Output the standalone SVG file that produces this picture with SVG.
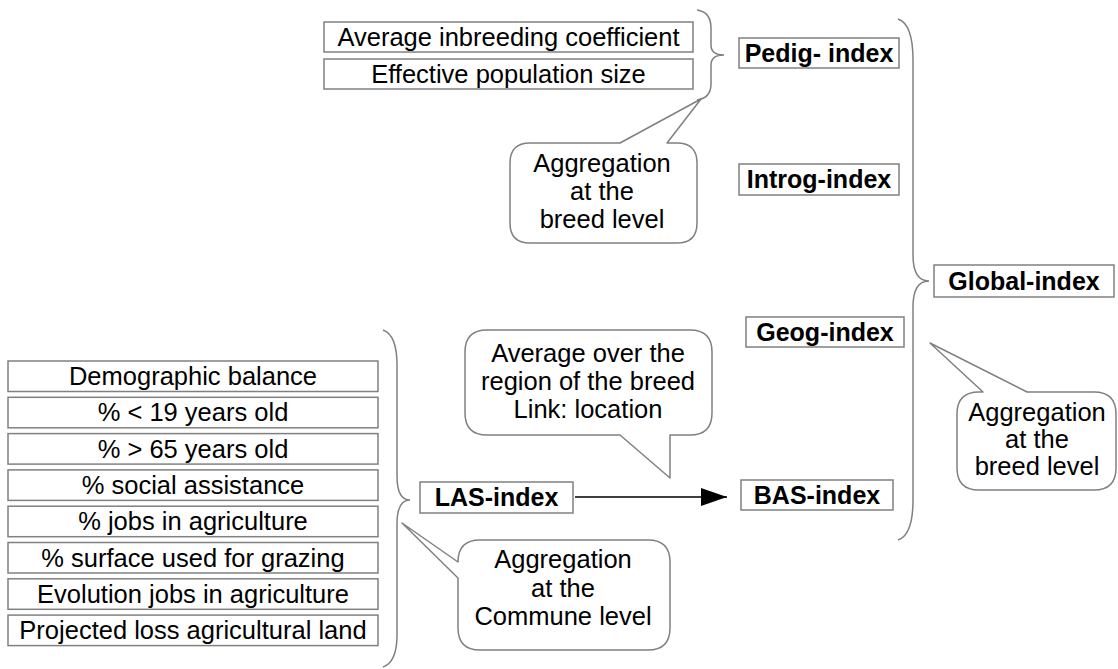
<svg xmlns="http://www.w3.org/2000/svg" width="1118" height="669" viewBox="0 0 1118 669">
<defs>
<style>
.box{fill:#fff;stroke:#808080;stroke-width:1.5}
.t{font-family:"Liberation Sans",Arial,sans-serif;font-size:25.5px;fill:#000;text-anchor:middle}
.b{font-family:"Liberation Sans",Arial,sans-serif;font-size:25px;font-weight:bold;fill:#000;text-anchor:middle}
.brace{fill:none;stroke:#808080;stroke-width:1.5}
.bubble{fill:#fff;stroke:#808080;stroke-width:1.5;stroke-linejoin:round}
</style>
<marker id="arr" markerUnits="userSpaceOnUse" markerWidth="26" markerHeight="18" refX="26" refY="9" orient="auto">
<path d="M0,0 L26,9 L0,18 Z" fill="#000"/>
</marker>
</defs>
<rect width="1118" height="669" fill="#fff"/>

<g id="avg-inbreeding"><rect class="box" x="324" y="22" width="369" height="30"/><text class="t" x="508.5" y="46">Average inbreeding coefficient</text></g>
<g id="eff-pop"><rect class="box" x="324" y="59" width="369" height="30"/><text class="t" x="508.5" y="83">Effective population size</text></g>

<g id="pedig"><rect class="box" x="739" y="38" width="160" height="30"/><text class="b" x="819" y="62">Pedig- index</text></g>
<g id="introg"><rect class="box" x="739" y="164" width="160" height="31"/><text class="b" x="819" y="188">Introg-index</text></g>
<g id="geog"><rect class="box" x="746" y="317" width="158" height="30"/><text class="b" x="825" y="341">Geog-index</text></g>
<g id="bas"><rect class="box" x="741" y="480" width="152" height="30"/><text class="b" x="817" y="504">BAS-index</text></g>
<g id="global"><rect class="box" x="934" y="265" width="180" height="32"/><text class="b" x="1024" y="290">Global-index</text></g>
<g id="las"><rect class="box" x="420" y="482" width="153" height="31"/><text class="b" x="496.5" y="506">LAS-index</text></g>

<g id="demo"><rect class="box" x="8" y="361" width="370" height="30.5"/><text class="t" x="193" y="385">Demographic balance</text></g>
<g id="lt19"><rect class="box" x="8" y="397.3" width="370" height="30.5"/><text class="t" x="193" y="421.3">% &lt; 19 years old</text></g>
<g id="gt65"><rect class="box" x="8" y="433.6" width="370" height="30.5"/><text class="t" x="193" y="457.6">% &gt; 65 years old</text></g>
<g id="social"><rect class="box" x="8" y="469.9" width="370" height="30.5"/><text class="t" x="193" y="493.9">% social assistance</text></g>
<g id="jobs"><rect class="box" x="8" y="506.2" width="370" height="30.5"/><text class="t" x="193" y="530.2">% jobs in agriculture</text></g>
<g id="surface"><rect class="box" x="8" y="542.5" width="370" height="30.5"/><text class="t" x="193" y="566.5">% surface used for grazing</text></g>
<g id="evol"><rect class="box" x="8" y="578.8" width="370" height="30.5"/><text class="t" x="193" y="602.8">Evolution jobs in agriculture</text></g>
<g id="loss"><rect class="box" x="8" y="615.1" width="370" height="30.5"/><text class="t" x="193" y="639.1">Projected loss agricultural land</text></g>

<g id="connectors">
<path class="brace" d="M697,10 Q711,12 711,28 L711,45 Q711,55 724,55 Q711,55 711,65 L711,84 Q711,98 697,100"/>
<path class="brace" d="M898,19 Q913,24 913,60 L913,255 Q913,281 929,281 Q913,281 913,307 L913,500 Q913,535 898,540"/>
<path class="brace" d="M383,330 Q397,335 397,365 L397,476 Q397,500 410,500 Q397,500 397,524 L397,635 Q397,662 383,667"/>
<line x1="575" y1="497" x2="727" y2="497" stroke="#000" stroke-width="1.5" marker-end="url(#arr)"/>
</g>

<g id="callout-breed-top">
<path class="bubble" d="M530,143 L620,143 L701,99 L667,143 L677,143 Q697,143 697,163 L697,223 Q697,243 677,243 L530,243 Q510,243 510,223 L510,163 Q510,143 530,143 Z"/>
<text class="t" x="602" y="172">Aggregation</text><text class="t" x="602" y="200">at the</text><text class="t" x="602" y="228">breed level</text>
</g>
<g id="callout-region">
<path class="bubble" d="M487,330 L690,330 Q712,330 712,352 L712,413 Q712,435 690,435 L670,435 L670,478 L620,435 L487,435 Q465,435 465,413 L465,352 Q465,330 487,330 Z"/>
<text class="t" x="588" y="362">Average over the</text><text class="t" x="588" y="390">region of the breed</text><text class="t" x="588" y="418">Link: location</text>
</g>
<g id="callout-commune">
<path class="bubble" d="M480,540 L648,540 Q670,540 670,562 L670,628 Q670,650 648,650 L480,650 Q458,650 458,628 L458,578 L402,523 L458,562 Q458,540 480,540 Z"/>
<text class="t" x="563" y="568">Aggregation</text><text class="t" x="563" y="597">at the</text><text class="t" x="563" y="625">Commune level</text>
</g>
<g id="callout-breed-right">
<path class="bubble" d="M979,392 L983,392 L930,343 L1027,392 L1094,392 Q1116,392 1116,414 L1116,468 Q1116,490 1094,490 L979,490 Q957,490 957,468 L957,414 Q957,392 979,392 Z"/>
<text class="t" x="1037" y="421">Aggregation</text><text class="t" x="1037" y="448">at the</text><text class="t" x="1037" y="475">breed level</text>
</g>
</svg>
